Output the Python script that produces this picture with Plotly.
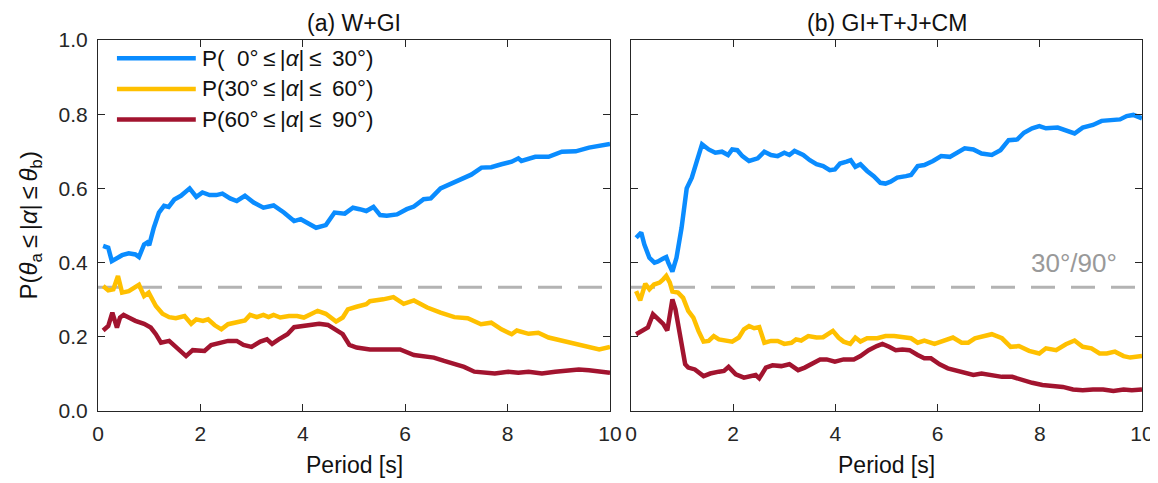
import plotly.graph_objects as go
from plotly.subplots import make_subplots

# ---------------- data ----------------
panel_titles = ["(a) W+GI", "(b) GI+T+J+CM"]
TS = "\u2009"
series_names = ["P(\u00a0\u00a00°" + TS + "≤" + TS + "|<i>α</i>|" + TS + "≤" + TS + "\u00a030°)",
                "P(30°" + TS + "≤" + TS + "|<i>α</i>|" + TS + "≤" + TS + "\u00a060°)",
                "P(60°" + TS + "≤" + TS + "|<i>α</i>|" + TS + "≤" + TS + "\u00a090°)"]
series_colors = ["#0A8CFF", "#FFC000", "#A2142F"]
reference_level = 1/3
reference_label = "30°/90°"
y_title = "P(<i>θ</i><sub>a</sub>" + TS + "≤" + TS + "|<i>α</i>|" + TS + "≤" + TS + "<i>θ</i><sub>b</sub>)"
x_title = "Period [s]"

a_blue_t = [0.1,0.2,0.27,0.34,0.47,0.6,0.73,0.8,0.9,0.96,1.0,1.09,1.19,1.29,1.38,1.49,1.62,1.79,1.92,2.04,2.18,2.31,2.43,2.58,2.71,2.87,3.04,3.23,3.43,3.63,3.83,3.96,4.12,4.26,4.45,4.62,4.82,4.98,5.11,5.24,5.38,5.51,5.64,5.84,6.03,6.17,6.36,6.5,6.69,6.89,7.09,7.29,7.49,7.68,7.88,8.08,8.21,8.27,8.54,8.8,9.06,9.33,9.59,9.79,10.0]
a_blue_v = [0.445,0.44,0.404,0.409,0.42,0.425,0.422,0.415,0.449,0.454,0.447,0.494,0.535,0.553,0.55,0.57,0.58,0.6,0.577,0.589,0.582,0.582,0.586,0.573,0.566,0.58,0.562,0.548,0.554,0.535,0.512,0.517,0.503,0.494,0.501,0.535,0.532,0.548,0.544,0.539,0.55,0.528,0.526,0.53,0.544,0.551,0.571,0.573,0.6,0.613,0.624,0.637,0.656,0.657,0.665,0.672,0.681,0.674,0.685,0.685,0.699,0.7,0.71,0.715,0.72]

a_yel_t = [0.1,0.2,0.3,0.39,0.47,0.6,0.8,0.9,0.99,1.13,1.26,1.39,1.52,1.69,1.82,1.92,2.05,2.15,2.28,2.41,2.54,2.71,2.87,2.97,3.1,3.23,3.33,3.43,3.56,3.73,3.89,4.02,4.16,4.29,4.45,4.55,4.65,4.78,4.88,5.05,5.24,5.31,5.44,5.57,5.77,5.97,6.17,6.43,6.69,6.96,7.22,7.48,7.68,7.88,8.08,8.18,8.41,8.6,8.8,9.06,9.33,9.59,9.79,10.0]
a_yel_v = [0.337,0.325,0.328,0.364,0.319,0.323,0.34,0.31,0.319,0.283,0.262,0.253,0.25,0.256,0.235,0.247,0.243,0.247,0.231,0.22,0.234,0.238,0.244,0.259,0.253,0.259,0.253,0.259,0.252,0.256,0.256,0.252,0.262,0.27,0.262,0.252,0.241,0.252,0.274,0.281,0.288,0.296,0.298,0.301,0.307,0.289,0.298,0.279,0.265,0.253,0.25,0.234,0.238,0.22,0.207,0.217,0.208,0.211,0.198,0.189,0.181,0.171,0.166,0.173]

a_red_t = [0.1,0.2,0.28,0.37,0.43,0.5,0.6,0.73,0.9,1.03,1.13,1.23,1.39,1.55,1.72,1.85,1.98,2.08,2.21,2.38,2.54,2.71,2.84,3.0,3.17,3.3,3.4,3.53,3.7,3.83,3.99,4.16,4.32,4.49,4.65,4.78,4.91,5.05,5.31,5.51,5.7,5.9,6.17,6.36,6.56,6.76,6.96,7.15,7.35,7.55,7.75,8.01,8.21,8.41,8.67,8.93,9.2,9.39,9.59,9.79,10.0]
a_red_v = [0.217,0.229,0.265,0.225,0.252,0.259,0.252,0.243,0.235,0.225,0.207,0.184,0.189,0.171,0.148,0.164,0.162,0.162,0.178,0.184,0.189,0.189,0.178,0.173,0.187,0.193,0.181,0.193,0.207,0.226,0.229,0.232,0.235,0.232,0.22,0.207,0.178,0.171,0.166,0.166,0.164,0.166,0.151,0.148,0.144,0.135,0.128,0.119,0.106,0.103,0.101,0.106,0.103,0.106,0.101,0.106,0.11,0.112,0.11,0.108,0.103]

b_blue_t = [0.1,0.2,0.26,0.36,0.46,0.53,0.63,0.69,0.73,0.81,0.89,0.99,1.09,1.19,1.29,1.39,1.52,1.65,1.78,1.9,1.98,2.08,2.18,2.31,2.48,2.61,2.74,2.87,3.0,3.1,3.2,3.37,3.5,3.63,3.76,3.89,3.99,4.09,4.22,4.3,4.39,4.49,4.62,4.75,4.88,4.98,5.08,5.21,5.38,5.48,5.61,5.74,5.91,6.07,6.24,6.4,6.53,6.7,6.86,7.06,7.23,7.39,7.56,7.69,7.85,7.99,8.12,8.35,8.51,8.68,8.84,9.04,9.21,9.44,9.57,9.7,9.83,10.0]
b_blue_v = [0.467,0.481,0.449,0.413,0.4,0.403,0.411,0.415,0.4,0.376,0.413,0.494,0.6,0.629,0.674,0.719,0.705,0.696,0.699,0.69,0.705,0.703,0.687,0.674,0.681,0.699,0.69,0.687,0.696,0.69,0.701,0.69,0.676,0.665,0.66,0.649,0.651,0.667,0.672,0.676,0.658,0.665,0.647,0.633,0.615,0.613,0.618,0.629,0.633,0.636,0.66,0.663,0.674,0.687,0.685,0.696,0.708,0.705,0.694,0.69,0.703,0.73,0.732,0.75,0.762,0.768,0.762,0.764,0.755,0.748,0.764,0.771,0.782,0.783,0.786,0.795,0.798,0.789]

b_yel_t = [0.1,0.18,0.28,0.36,0.45,0.56,0.63,0.69,0.76,0.81,0.92,1.02,1.12,1.22,1.32,1.42,1.52,1.62,1.72,1.85,1.98,2.11,2.21,2.31,2.41,2.51,2.61,2.74,2.87,3.0,3.14,3.23,3.33,3.47,3.63,3.76,3.84,3.95,4.06,4.16,4.29,4.39,4.49,4.62,4.82,4.98,5.15,5.31,5.48,5.61,5.74,5.94,6.14,6.3,6.47,6.6,6.73,6.9,7.06,7.26,7.43,7.59,7.79,7.99,8.12,8.32,8.51,8.68,8.84,9.01,9.17,9.31,9.47,9.64,9.77,10.0]
b_yel_v = [0.323,0.298,0.343,0.328,0.341,0.346,0.355,0.364,0.346,0.322,0.319,0.305,0.27,0.252,0.216,0.187,0.189,0.202,0.193,0.19,0.187,0.198,0.22,0.229,0.223,0.226,0.184,0.189,0.189,0.181,0.184,0.193,0.19,0.202,0.198,0.199,0.207,0.216,0.198,0.187,0.181,0.198,0.187,0.196,0.196,0.202,0.202,0.198,0.196,0.184,0.19,0.181,0.19,0.198,0.184,0.184,0.196,0.202,0.207,0.196,0.173,0.175,0.162,0.155,0.169,0.164,0.18,0.19,0.173,0.169,0.155,0.155,0.16,0.148,0.144,0.148]

b_red_t = [0.1,0.23,0.33,0.43,0.53,0.63,0.71,0.81,0.87,0.96,1.06,1.12,1.25,1.42,1.55,1.72,1.82,1.91,2.05,2.21,2.34,2.44,2.51,2.64,2.77,2.94,3.1,3.27,3.4,3.53,3.7,3.83,3.99,4.16,4.36,4.49,4.65,4.81,4.92,5.05,5.18,5.31,5.45,5.61,5.74,5.87,6.04,6.2,6.34,6.53,6.7,6.86,7.06,7.26,7.46,7.66,7.85,8.05,8.25,8.45,8.65,8.84,9.04,9.24,9.44,9.64,9.8,10.0]
b_red_v = [0.207,0.216,0.225,0.261,0.247,0.235,0.217,0.301,0.274,0.207,0.126,0.117,0.112,0.094,0.101,0.106,0.108,0.119,0.099,0.09,0.094,0.097,0.088,0.117,0.123,0.121,0.126,0.11,0.117,0.126,0.139,0.139,0.133,0.139,0.139,0.148,0.164,0.175,0.181,0.173,0.164,0.166,0.164,0.151,0.142,0.142,0.126,0.115,0.11,0.106,0.097,0.101,0.097,0.092,0.092,0.083,0.076,0.07,0.067,0.065,0.058,0.056,0.058,0.058,0.054,0.058,0.056,0.058]

x_range = [0, 10]
y_range = [0, 1]
x_ticks = [0, 2, 4, 6, 8, 10]
y_ticks = [0.0, 0.2, 0.4, 0.6, 0.8, 1.0]
y_ticklabels = ["0.0", "0.2", "0.4", "0.6", "0.8", "1.0"]

panels = [
    [(a_blue_t, a_blue_v), (a_yel_t, a_yel_v), (a_red_t, a_red_v)],
    [(b_blue_t, b_blue_v), (b_yel_t, b_yel_v), (b_red_t, b_red_v)],
]

# ---------------- figure ----------------
FONT = "Helvetica, Arial, 'Liberation Sans', sans-serif"
AX = "#262626"
TXT = "#111111"
# the page body adds an 8px margin; compensate so the plot lands where the reference has it
W, H = 1150, 475
ML, MR, MT, MB = 90, 16, 32, 72
pw = W - ML - MR

fig = make_subplots(rows=1, cols=2, horizontal_spacing=0.0)
fig.update_layout(xaxis=dict(domain=[0, 512 / pw]), xaxis2=dict(domain=[533 / pw, 1]))

for c, series in enumerate(panels, start=1):
    fig.add_trace(go.Scatter(x=x_range, y=[reference_level, reference_level], mode="lines",
                             line=dict(color="#B3B3B3", width=3, dash="24px,16px"),
                             showlegend=False, hoverinfo="skip"), row=1, col=c)
    for k, (t, v) in enumerate(series):
        fig.add_trace(go.Scatter(x=t, y=v, mode="lines", name=series_names[k],
                                 line=dict(color=series_colors[k], width=4.5),
                                 showlegend=False), row=1, col=c)

axis_common = dict(showline=True, linecolor=AX, linewidth=1, mirror="ticks",
                   ticks="inside", ticklen=7, tickcolor=AX, tickwidth=1,
                   showgrid=False, zeroline=False, automargin=False,
                   tickfont=dict(family=FONT, size=21, color=AX))
for c in (1, 2):
    fig.update_xaxes(range=x_range, tickvals=x_ticks, ticktext=[str(x) for x in x_ticks],
                     ticklabelstandoff=4, ticklabeloverflow="allow", row=1, col=c, **axis_common)
    fig.update_yaxes(range=y_range, tickvals=y_ticks, ticktext=y_ticklabels,
                     ticklabelstandoff=5, showticklabels=(c == 1), row=1, col=c, **axis_common)

# axis titles
for xr in ("x domain", "x2 domain"):
    fig.add_annotation(x=0.5, y=0, xref=xr, yref="paper", text=x_title, showarrow=False,
                       xanchor="center", yanchor="middle", yshift=-54,
                       font=dict(family=FONT, size=23, color=TXT))
fig.add_annotation(x=-(98 - 30) / pw, y=0.5, xref="paper", yref="paper", text=y_title,
                   showarrow=False, textangle=-90, xanchor="center", yanchor="middle",
                   font=dict(family=FONT, size=24, color=TXT))

# panel titles
for c, ttl in enumerate(panel_titles, start=1):
    xr = "x domain" if c == 1 else "x2 domain"
    fig.add_annotation(x=0.5, y=1.0, xref=xr, yref="paper", text=ttl, showarrow=False,
                       xanchor="center", yanchor="bottom", yshift=2,
                       font=dict(family=FONT, size=23, color=TXT))

# manual legend (inside left panel)
leg_y = [0.951, 0.868, 0.786]
for k in range(3):
    fig.add_shape(type="line", xref="x domain", yref="y domain",
                  x0=0.037, x1=0.191, y0=leg_y[k], y1=leg_y[k],
                  line=dict(color=series_colors[k], width=4.5))
    fig.add_annotation(x=0.2, y=leg_y[k], xref="x domain", yref="y domain",
                       text=series_names[k], showarrow=False, xanchor="left", yanchor="middle",
                       font=dict(family=FONT, size=22.5, color=TXT))

# reference label
fig.add_annotation(x=9.55, y=reference_level, xref="x2", yref="y2", text=reference_label,
                   showarrow=False, xanchor="right", yanchor="bottom", yshift=7,
                   font=dict(family=FONT, size=26, color="#999999"))

fig.update_layout(width=W, height=H, margin=dict(l=ML, r=MR, t=MT, b=MB),
                  plot_bgcolor="white", paper_bgcolor="white", showlegend=False,
                  font=dict(family=FONT, color=AX))

fig.write_html("out.html")
